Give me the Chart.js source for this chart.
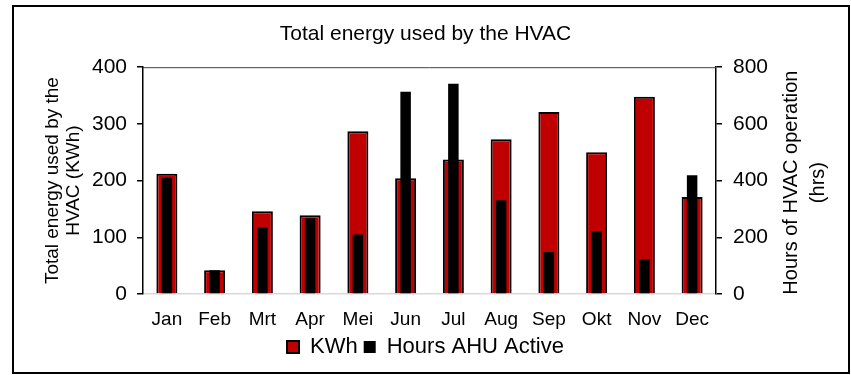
<!DOCTYPE html>
<html>
<head>
<meta charset="utf-8">
<title>Total energy used by the HVAC</title>
<script src="https://cdn.jsdelivr.net/npm/chart.js@4/dist/chart.umd.min.js"></script>
<style>
  html, body { margin: 0; padding: 0; background: #ffffff; }
  canvas { display: block; }
</style>
</head>
<body>
<canvas id="hvac" width="851" height="375"></canvas>
<script>
// Monthly HVAC energy use and air-handling-unit running hours
const months = ['Jan', 'Feb', 'Mrt', 'Apr', 'Mei', 'Jun', 'Jul', 'Aug', 'Sep', 'Okt', 'Nov', 'Dec'];
const energyKWh = [212, 42, 146, 139, 287, 204, 237, 273, 321, 250, 348, 171];
const hoursAHU = [410, 84, 235, 267, 210, 713, 742, 331, 148, 221, 123, 419];
const energyTicks = [0, 100, 200, 300, 400];
const hourTicks = [0, 200, 400, 600, 800];

const FONT = "'Liberation Sans', Arial, Helvetica, sans-serif";
const leftTitle = ['Total energy used by the', 'HVAC (KWh)'];
const rightTitle = ['Hours of HVAC operation', '(hrs)'];

// Outer frame, top edge of the plot and the rotated axis titles
const decorations = {
  id: 'decorations',
  beforeDraw(chart) {
    const ctx = chart.ctx;
    ctx.save();
    ctx.fillStyle = '#ffffff';
    ctx.fillRect(0, 0, chart.width, chart.height);
    ctx.restore();
  },
  afterDraw(chart) {
    const ctx = chart.ctx;
    const a = chart.chartArea;
    ctx.save();
    // frame
    ctx.strokeStyle = '#000000';
    ctx.lineWidth = 2;
    ctx.strokeRect(13, 6, 836, 367);
    // top edge of plot area
    ctx.strokeStyle = '#404040';
    ctx.lineWidth = 1;
    ctx.beginPath();
    ctx.moveTo(a.left, a.top + 0.5);
    ctx.lineTo(a.right, a.top + 0.5);
    ctx.stroke();
    // axis titles, reading bottom to top
    const midY = (a.top + a.bottom) / 2;
    ctx.fillStyle = '#000000';
    ctx.textAlign = 'center';
    ctx.textBaseline = 'middle';
    ctx.translate(0, midY);
    ctx.rotate(-Math.PI / 2);
    ctx.font = '19px ' + FONT;
    ctx.fillText(leftTitle[0], 0, 53);
    ctx.fillText(leftTitle[1], 0, 74);
    ctx.font = '20px ' + FONT;
    ctx.fillText(rightTitle[0], -2, 791);
    ctx.fillText(rightTitle[1], -2, 818);
    ctx.restore();
  }
};

const axisGrid = {
  display: true,
  drawOnChartArea: false,
  drawTicks: true,
  tickLength: 6,
  color: '#000000',
  lineWidth: 1.5
};

new Chart(document.getElementById('hvac'), {
  type: 'bar',
  data: {
    labels: months,
    datasets: [
      {
        label: 'KWh',
        data: energyKWh,
        yAxisID: 'y',
        backgroundColor: '#c00000',
        borderColor: '#000000',
        borderWidth: 2,
        grouped: false,
        categoryPercentage: 1,
        barPercentage: 0.44,
        order: 1
      },
      {
        label: 'Hours AHU Active',
        data: hoursAHU,
        yAxisID: 'y1',
        backgroundColor: '#000000',
        borderColor: '#000000',
        borderWidth: 0,
        grouped: false,
        categoryPercentage: 1,
        barPercentage: 0.22,
        order: 0
      }
    ]
  },
  options: {
    responsive: false,
    animation: false,
    devicePixelRatio: 1,
    layout: { padding: { top: 0, left: 0, right: 0, bottom: 7 } },
    plugins: {
      title: {
        display: true,
        text: 'Total energy used by the HVAC',
        color: '#000000',
        font: { family: FONT, size: 21, weight: 'normal', lineHeight: 1.2 },
        padding: { top: 22, bottom: 20 }
      },
      legend: {
        position: 'bottom',
        labels: {
          color: '#000000',
          font: { family: FONT, size: 22 },
          boxWidth: 12,
          boxHeight: 12,
          padding: 6,
          sort: (a, b) => a.datasetIndex - b.datasetIndex
        }
      },
      tooltip: { enabled: false }
    },
    scales: {
      x: {
        offset: true,
        grid: { display: false, drawTicks: false },
        border: { display: true, color: '#d9d9d9', width: 1.5 },
        ticks: { color: '#000000', font: { family: FONT, size: 19 }, padding: 14, maxRotation: 0, autoSkip: false },
        afterFit: s => { s.height = 36; }
      },
      y: {
        position: 'left',
        min: energyTicks[0],
        max: energyTicks[energyTicks.length - 1],
        afterBuildTicks: s => { s.ticks = energyTicks.map(v => ({ value: v })); },
        grid: axisGrid,
        border: { display: true, color: '#000000', width: 1.5 },
        ticks: { color: '#000000', font: { family: FONT, size: 21 }, padding: 10 },
        afterFit: s => { s.width = 143; }
      },
      y1: {
        position: 'right',
        min: hourTicks[0],
        max: hourTicks[hourTicks.length - 1],
        afterBuildTicks: s => { s.ticks = hourTicks.map(v => ({ value: v })); },
        grid: axisGrid,
        border: { display: true, color: '#000000', width: 1.5 },
        ticks: { color: '#000000', font: { family: FONT, size: 21 }, padding: 11 },
        afterFit: s => { s.width = 135; }
      }
    }
  },
  plugins: [decorations]
});
</script>
</body>
</html>
